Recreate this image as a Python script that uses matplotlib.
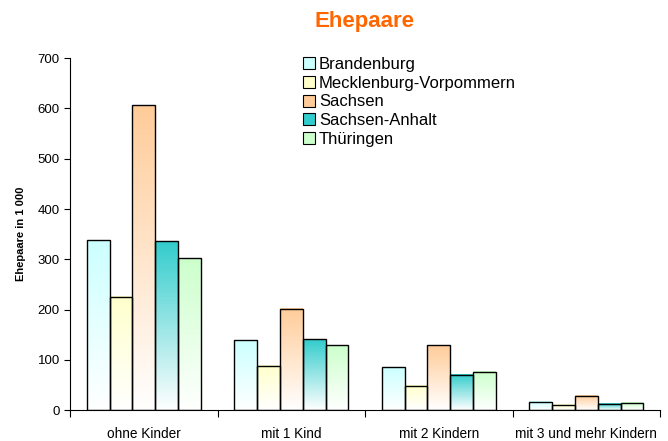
import numpy as np
import matplotlib
matplotlib.use("Agg")
import matplotlib.pyplot as plt
from matplotlib.colors import to_rgb
from matplotlib.patches import Patch

plt.rcParams['font.family'] = ['Liberation Sans', 'DejaVu Sans']

categories = ['ohne Kinder', 'mit 1 Kind', 'mit 2 Kindern', 'mit 3 und mehr Kindern']
laender = ['Brandenburg', 'Mecklenburg-Vorpommern', 'Sachsen', 'Sachsen-Anhalt', 'Thüringen']
brandenburg = [338, 139, 85, 17]
mecklenburg = [225, 88, 48, 11]
sachsen = [606, 201, 129, 28]
sachsen_anhalt = [336, 141, 70, 13]
thueringen = [302, 129, 76, 15]
colors = ['#ccffff', '#ffffcc', '#ffcc99', '#33cccc', '#ccffcc']

series = [brandenburg, mecklenburg, sachsen, sachsen_anhalt, thueringen]

fig = plt.figure(figsize=(6.68, 4.41), dpi=100)
ax = fig.add_axes([0.105, 0.07, 0.883, 0.798])

width = 0.155
x = np.arange(len(categories))
for i, (vals, col) in enumerate(zip(series, colors)):
    rgb = np.array(to_rgb(col))
    grad = np.linspace(0, 1, 256)[:, None]
    img = (1 - grad) * np.ones(3) + grad * rgb  # white at bottom -> color at top
    img = img[:, None, :]
    for xi, v in zip(x, vals):
        x0 = xi + (i - 2) * width - width / 2
        ax.imshow(img, extent=[x0, x0 + width, 0, v], origin='lower',
                  aspect='auto', zorder=2, interpolation='bilinear')
        ax.bar(x0 + width / 2, v, width, facecolor='none', edgecolor='black',
               linewidth=1, zorder=3)

ax.set_xlim(-0.5, len(categories) - 0.5)
ax.set_ylim(0, 700)
ax.set_yticks(range(0, 701, 100))
ax.set_xticks(np.arange(len(categories) + 1) - 0.5, minor=False)
ax.set_xticklabels([])
ax.set_xticks(x, minor=True)
ax.set_xticklabels(categories, minor=True, fontsize=9.8)
ax.tick_params(axis='x', which='minor', length=0, pad=12)
ax.tick_params(axis='x', which='major', length=5, direction='out')
ax.tick_params(axis='y', length=4, labelsize=9.5)
ax.spines['top'].set_visible(False)
ax.spines['right'].set_visible(False)
ax.set_ylabel('Ehepaare in 1 000', fontsize=8, fontweight='bold', labelpad=8)

fig.suptitle('Ehepaare', x=0.545, y=0.975, fontsize=16, fontweight='bold', color='#ff6600')

handles = [Patch(facecolor=c, edgecolor='black', linewidth=0.8) for c in colors]
ax.legend(handles, laender, loc='upper left', bbox_to_anchor=(0.383, 1.022), frameon=False,
          fontsize=12, handlelength=0.72, handleheight=0.72, handletextpad=0.25,
          labelspacing=0.22, borderaxespad=0)

fig.savefig('out.png', dpi=100)
